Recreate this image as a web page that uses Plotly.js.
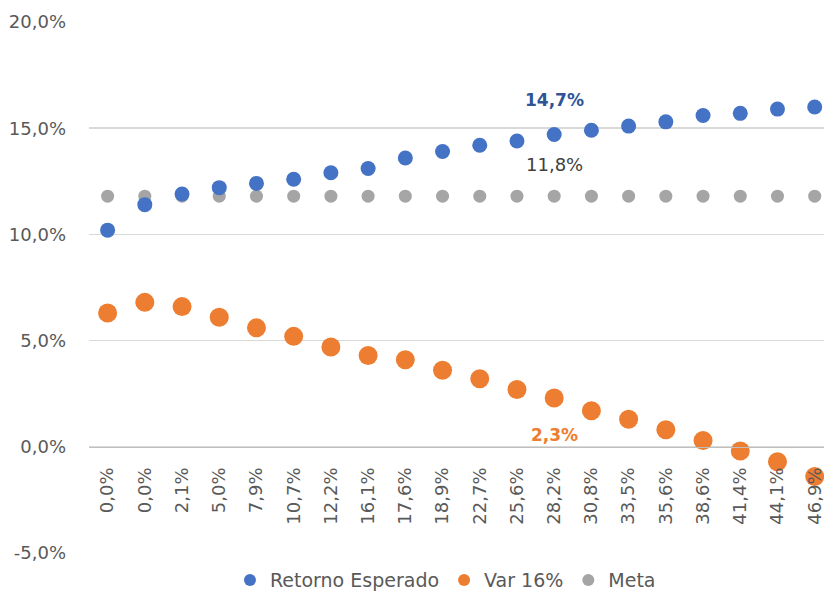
<!DOCTYPE html>
<html>
<head>
<meta charset="utf-8">
<script src="https://cdn.plot.ly/plotly-3.0.1.min.js"></script>
<style>
html,body{margin:0;padding:0;overflow:hidden;background:#fff;}
#chart{width:824px;height:592px;}
</style>
</head>
<body>
<div id="chart"></div>
<script>
// Category labels (x axis)
var categories = ["0,0%","0,0%","2,1%","5,0%","7,9%","10,7%","12,2%","16,1%","17,6%","18,9%",
                  "22,7%","25,6%","28,2%","30,8%","33,5%","35,6%","38,6%","41,4%","44,1%","46,9%"];
// Series values (in %)
var retornoEsperado = [10.2,11.4,11.9,12.2,12.4,12.6,12.9,13.1,13.6,13.9,
                       14.2,14.4,14.7,14.9,15.1,15.3,15.6,15.7,15.9,16.0];
var var16 = [6.3,6.8,6.6,6.1,5.6,5.2,4.7,4.3,4.1,3.6,
             3.2,2.7,2.3,1.7,1.3,0.8,0.3,-0.2,-0.7,-1.4];
var meta = [11.8,11.8,11.8,11.8,11.8,11.8,11.8,11.8,11.8,11.8,
            11.8,11.8,11.8,11.8,11.8,11.8,11.8,11.8,11.8,11.8];
var yTicks = [-5,0,5,10,15,20];
var seriesNames = ["Retorno Esperado","Var 16%","Meta"];
var seriesColors = ["#4472C4","#ED7D31","#A5A5A5"];
var labelIndex = 12;

var xIdx = categories.map(function(_, i){ return i; });
function fmt(v){ return v.toFixed(1).replace('.', ',') + '%'; }

var FONT = '"DejaVu Sans", "Open Sans", sans-serif';
var traces = [
  {x: xIdx, y: meta, type: 'scatter', mode: 'markers', name: seriesNames[2],
   marker: {color: seriesColors[2], size: 13}, cliponaxis: false, showlegend: false},
  {x: xIdx, y: retornoEsperado, type: 'scatter', mode: 'markers', name: seriesNames[0],
   marker: {color: seriesColors[0], size: 15}, cliponaxis: false, showlegend: false},
  {x: xIdx, y: var16, type: 'scatter', mode: 'markers', name: seriesNames[1],
   marker: {color: seriesColors[1], size: 19}, cliponaxis: false, showlegend: false}
];
// legend-only entries
seriesNames.forEach(function(n, i){
  traces.push({x: [null], y: [null], type: 'scatter', mode: 'markers', name: n,
               marker: {color: seriesColors[i], size: 12}, showlegend: true});
});

var layout = {
  width: 824, height: 592,
  margin: {l: 89, r: 0, t: 22, b: 39, autoexpand: false},
  paper_bgcolor: '#fff', plot_bgcolor: '#fff',
  separators: ',.',
  font: {family: FONT, size: 18, color: '#595959'},
  showlegend: true,
  legend: {orientation: 'h', x: 0.485, xanchor: 'center', y: -0.051, yanchor: 'middle',
           font: {family: FONT, size: 19, color: '#595959'}, itemwidth: 30, tracegroupgap: 0},
  xaxis: {
    range: [-0.5, 19.25], tickmode: 'array', tickvals: xIdx, ticktext: categories,
    tickangle: -90, showgrid: false, zeroline: false,
    anchor: 'free', position: 0.2, showline: true, linecolor: '#BFBFBF', linewidth: 1.5,
    ticks: '', ticklabelstandoff: 12, ticklabeloverflow: 'allow',
    tickfont: {family: FONT, size: 18, color: '#595959'}
  },
  yaxis: {
    range: [-5, 20], tickmode: 'array', tickvals: yTicks,
    ticktext: yTicks.map(fmt), showgrid: true, gridcolor: '#D9D9D9', gridwidth: 1.5,
    zeroline: false, showline: false, ticks: '', ticklabelstandoff: 22,
    tickfont: {family: FONT, size: 18, color: '#595959'}
  },
  annotations: [
    {x: labelIndex, y: retornoEsperado[labelIndex], text: '<b>' + fmt(retornoEsperado[labelIndex]) + '</b>',
     showarrow: false, yshift: 35, font: {family: FONT, size: 17, color: '#2F5597'}},
    {x: labelIndex, y: meta[labelIndex], text: fmt(meta[labelIndex]),
     showarrow: false, yshift: 32, font: {family: FONT, size: 18, color: '#404040'}},
    {x: labelIndex, y: var16[labelIndex], text: '<b>' + fmt(var16[labelIndex]) + '</b>',
     showarrow: false, yshift: -37, font: {family: FONT, size: 17, color: '#ED7D31'}}
  ]
};

Plotly.newPlot('chart', traces, layout, {displayModeBar: false, staticPlot: true});
</script>
</body>
</html>
